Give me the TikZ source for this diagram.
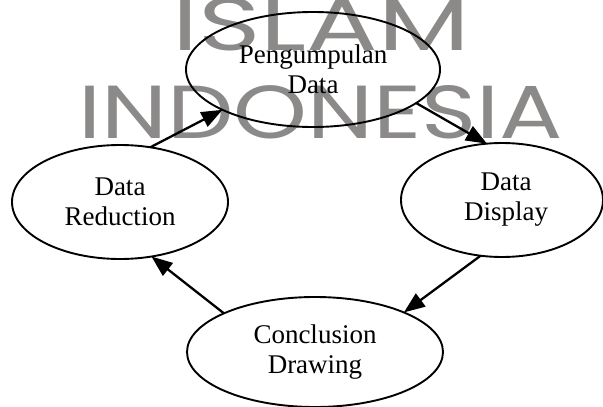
\documentclass[tikz,border=0pt]{standalone}
\usepackage{fontspec}
\setmainfont{Liberation Serif}
\newfontfamily\wmfont{Poppins}
\usetikzlibrary{shapes.geometric,arrows.meta}
\definecolor{wmgray}{RGB}{140,137,137}
\begin{document}
\begin{tikzpicture}[x=1pt,y=-1pt,
  stage/.style={ellipse,draw=black,line width=1.9pt,inner sep=0pt,outer sep=0pt,
    align=center,font=\fontsize{27}{30}\selectfont},
  flow/.style={line width=2.3pt,-{Triangle[length=21pt,width=16pt]}},
  wm/.style={inner sep=0pt,outer sep=0pt,text=wmgray,anchor=base west}]
\useasboundingbox (0,0) rectangle (603,407);
% watermark
\node[wm] (wm1) at (172,50) {\resizebox{298pt}{53pt}{\wmfont ISLAM}};
\node[wm] (wm2) at (78,138) {\resizebox{485pt}{53pt}{\wmfont INDONESIA}};
% stages
\node[stage,minimum width=254pt,minimum height=115pt] (T) at (313,69.5) {Pengumpulan\\Data};
\node[stage,minimum width=216pt,minimum height=114pt] (L) at (120,202) {Data\\Reduction};
\node[stage,minimum width=202pt,minimum height=114pt] (R) at (502,200) {\hspace*{8pt}Data\\\hspace*{8pt}Display};
\node[stage,minimum width=256pt,minimum height=110pt] (B) at (315,352) {Conclusion\\Drawing};
% flows
\draw[flow] (L.61) -- (T.204);
\draw[flow] (T.342) -- (R.105);
\draw[flow] (R.249) -- (B.24);
\draw[flow] (B.157) -- (L.300);
\end{tikzpicture}
\end{document}
